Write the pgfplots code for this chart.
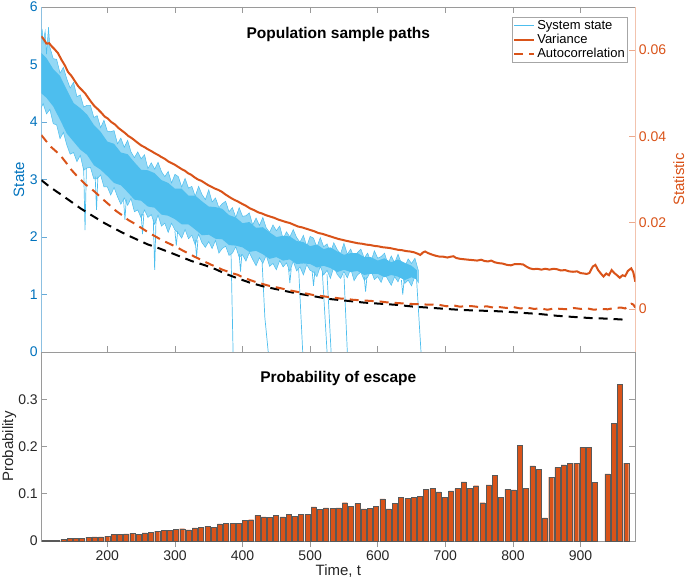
\documentclass[border=0pt]{standalone}
\usepackage{pgfplots}
\pgfplotsset{compat=1.18}
\usepackage{pgfplotstable}
\usepackage{fontspec}
\setmainfont{Liberation Sans}

\definecolor{matblue}{HTML}{0072BD}
\definecolor{sysblue}{HTML}{4DBEEE}
\definecolor{matorange}{HTML}{D95319}
\definecolor{axgray}{HTML}{9A9A9A}
\newcommand{\fs}{\fontsize{14}{16}\selectfont}
\newcommand{\fl}{\fontsize{15}{17}\selectfont}
\newcommand{\ft}{\fontsize{15.5}{18}\selectfont}
\newcommand{\fg}{\fontsize{13}{15}\selectfont}

% probability of escape, one bar per time bin
\pgfplotstableread{
t p
107.3 0.0014
116.6 0.0020
125.8 0.0020
135.1 0.0036
144.3 0.0050
153.6 0.0050
162.8 0.0060
172.1 0.0080
181.3 0.0086
190.6 0.0086
199.8 0.0100
209.1 0.0136
218.3 0.0136
227.6 0.0150
236.8 0.0157
246.1 0.0140
255.3 0.0170
264.6 0.0186
273.8 0.0210
283.1 0.0220
292.3 0.0230
301.6 0.0240
310.8 0.0260
320.1 0.0236
329.3 0.0280
338.6 0.0290
347.8 0.0310
357.1 0.0290
366.3 0.0360
375.6 0.0380
384.8 0.0370
394.1 0.0380
403.3 0.0430
412.6 0.0450
421.8 0.0540
431.1 0.0510
440.3 0.0500
449.6 0.0540
458.8 0.0510
468.1 0.0570
477.3 0.0520
486.6 0.0570
495.8 0.0570
505.1 0.0720
514.3 0.0670
523.6 0.0700
532.8 0.0690
542.1 0.0700
551.3 0.0810
560.6 0.0730
569.8 0.0790
579.1 0.0680
588.3 0.0690
597.6 0.0740
606.8 0.0890
616.1 0.0680
625.3 0.0790
634.6 0.0920
643.8 0.0900
653.1 0.0930
662.3 0.0940
671.6 0.1100
680.8 0.1110
690.1 0.1040
699.3 0.0920
708.6 0.1060
717.8 0.1110
727.1 0.1250
736.3 0.1110
745.6 0.1170
754.8 0.0810
764.1 0.1190
773.3 0.1390
782.6 0.0930
791.8 0.1090
801.1 0.1080
810.3 0.2020
819.6 0.1110
828.8 0.1590
838.1 0.1510
847.3 0.0490
856.6 0.1350
865.8 0.1560
875.1 0.1610
884.3 0.1650
893.6 0.1650
902.8 0.1980
912.1 0.1980
921.3 0.1240
939.8 0.1420
949.1 0.2490
958.3 0.3310
967.6 0.1650
}\escape

\begin{document}
\begin{tikzpicture}
\useasboundingbox (-41.3pt,-228pt) rectangle (643.7pt,352pt);

% ---------- top panel, left axis (state) ----------
\begin{axis}[
  at={(0pt,0pt)}, anchor=south west,
  width=594pt, height=345pt, scale only axis,
  xmin=102.3, xmax=981, ymin=0, ymax=6,
  axis x line*=box, axis y line*=left,
  x axis line style={axgray, line width=0.6pt},
  y axis line style={matblue!45, line width=0.6pt},
  tick align=inside, major tick length=6pt,
  xtick={200,300,...,900}, xticklabels={}, xtick pos=both,
  xtick style={axgray, line width=0.6pt},
  ytick={0,1,...,6}, yticklabels={0,1,2,3,4,5,6},
  ytick style={matblue!60, line width=0.6pt},
  yticklabel style={text=matblue, font=\fs},
  ylabel={State},
  ylabel style={text=matblue, font=\fl, at={(axis description cs:-0.029,0.5)}, anchor=base},
  title={\bfseries Population sample paths},
  title style={at={(axis description cs:0.5,0.9275)}, anchor=center, yshift=-8pt, font=\ft},
  unbounded coords=jump,
]
% outer envelope of the sample paths: upper edge, then lower edge back
\addplot[fill=sysblue!60, draw=sysblue, line width=0.5pt] coordinates {
(102.3,5.45) (103.5,5.62) (105,5.39) (108,5.58) (110,5.18) (113,5.65) (115,5.30) (120,5.10)
(125,5.09) (130,4.85) (135,4.95) (140,4.75) (145,4.59) (150,4.69) (155,4.44) (160,4.47)
(165,4.26) (170,4.29) (175,4.29) (180,4.08) (185,4.11) (190,3.90) (195,4.03) (200,3.84)
(205,3.83) (210,3.85) (215,3.62) (220,3.72) (225,3.56) (230,3.68) (235,3.48) (240,3.38)
(245,3.48) (250,3.36) (255,3.43) (260,3.19) (265,3.29) (270,3.18) (275,3.30) (280,3.14)
(285,3.05) (290,3.14) (295,2.94) (300,3.09) (305,3.05) (310,2.87) (315,3.02) (320,2.85)
(325,2.88) (330,2.71) (335,2.88) (340,2.74) (345,2.65) (350,2.82) (355,2.61) (360,2.68)
(365,2.51) (370,2.58) (375,2.62) (380,2.44) (385,2.51) (390,2.34) (395,2.51) (400,2.36)
(405,2.37) (410,2.42) (415,2.21) (420,2.33) (425,2.20) (430,2.34) (435,2.16) (440,2.08)
(445,2.21) (450,2.11) (455,2.19) (460,1.97) (465,2.09) (470,2.00) (475,2.13) (480,1.99)
(485,1.91) (490,2.03) (495,1.84) (500,2.01) (505,1.98) (510,1.82) (515,1.99) (520,1.83)
(525,1.88) (530,1.72) (535,1.90) (540,1.78) (545,1.71) (550,1.89) (555,1.70) (560,1.79)
(565,1.64) (570,1.73) (575,1.79) (580,1.63) (585,1.72) (590,1.57) (595,1.76) (600,1.63)
(605,1.66) (610,1.72) (615,1.53) (620,1.67) (625,1.55) (630,1.70) (635,1.54) (640,1.48)
(645,1.62) (650,1.54) (655,1.63) (660,1.42)
(660,1.21) (655,1.32) (650,1.15) (645,1.25) (640,1.19) (635,1.37) (630,1.22) (625,1.31)
(620,1.16) (615,1.26) (610,1.37) (605,1.21) (600,1.31) (595,1.26) (590,1.42) (585,1.30)
(580,1.25) (575,1.39) (570,1.34) (565,1.24) (560,1.45) (555,1.29) (550,1.40) (545,1.28)
(540,1.35) (535,1.48) (530,1.28) (525,1.42) (520,1.34) (515,1.49) (510,1.31) (505,1.39)
(500,1.42) (495,1.52) (490,1.34) (485,1.48) (480,1.41) (475,1.58) (470,1.40) (465,1.55)
(460,1.48) (455,1.59) (450,1.43) (445,1.54) (440,1.49) (435,1.68) (430,1.54) (425,1.64)
(420,1.50) (415,1.61) (410,1.73) (405,1.58) (400,1.69) (395,1.65) (390,1.83) (385,1.72)
(380,1.68) (375,1.84) (370,1.80) (365,1.72) (360,1.94) (355,1.80) (350,1.92) (345,1.82)
(340,1.90) (335,2.05) (330,1.86) (325,2.03) (320,1.97) (315,2.13) (310,1.98) (305,2.07)
(300,2.12) (295,2.24) (290,2.08) (285,2.24) (280,2.19) (275,2.38) (270,2.22) (265,2.39)
(260,2.34) (255,2.47) (250,2.33) (245,2.47) (240,2.44) (235,2.67) (230,2.55) (225,2.68)
(220,2.57) (215,2.70) (210,2.86) (205,2.73) (200,2.87) (195,2.87) (190,3.08) (185,3.01)
(180,3.01) (175,3.21) (170,3.20) (165,3.16) (160,3.42) (155,3.31) (150,3.47) (145,3.44)
(140,3.60) (135,3.82) (130,3.71) (125,3.95) (120,3.97) (115,4.22) (110,4.14) (105,4.32)
(102.3,4.25)
};
% dense core of the sample paths
\addplot[fill=sysblue, draw=none] coordinates {
(102.3,5.20) (110,5.11) (120,4.92) (130,4.80) (140,4.56) (150,4.33) (160,4.24) (170,4.13)
(180,3.95) (190,3.83) (200,3.66) (210,3.62) (220,3.47) (230,3.44) (240,3.30) (250,3.17)
(260,3.16) (270,3.11) (280,2.99) (290,2.94) (300,2.84) (310,2.84) (320,2.72) (330,2.72)
(340,2.62) (350,2.53) (360,2.52) (370,2.49) (380,2.38) (390,2.34) (400,2.24) (410,2.26)
(420,2.16) (430,2.17) (440,2.08) (450,2.00) (460,2.02) (470,2.01) (480,1.93) (490,1.91)
(500,1.84) (510,1.87) (520,1.79) (530,1.82) (540,1.75) (550,1.69) (560,1.72) (570,1.72)
(580,1.65) (590,1.65) (600,1.59) (610,1.63) (620,1.56) (630,1.61) (640,1.55) (650,1.50)
(658,1.42)
(658,1.26) (650,1.30) (640,1.25) (630,1.31) (620,1.34) (610,1.30) (600,1.36) (590,1.36)
(580,1.34) (570,1.41) (560,1.39) (550,1.43) (540,1.39) (530,1.46) (520,1.50) (510,1.47)
(500,1.53) (490,1.54) (480,1.53) (470,1.61) (460,1.59) (450,1.65) (440,1.62) (430,1.70)
(420,1.76) (410,1.74) (400,1.82) (390,1.85) (380,1.86) (370,1.96) (360,1.97) (350,2.04)
(340,2.03) (330,2.13) (320,2.22) (310,2.22) (300,2.31) (290,2.37) (280,2.39) (270,2.51)
(260,2.53) (250,2.63) (240,2.65) (230,2.78) (220,2.90) (210,2.94) (200,3.06) (190,3.17)
(180,3.25) (170,3.43) (160,3.52) (150,3.66) (140,3.80) (130,4.04) (120,4.27) (110,4.42)
(102.3,4.50)
};
% downward spikes and escapes to zero
\addplot[sysblue, line width=0.7pt] coordinates {
(165,3.2) (167,2.12) (169,3.2) (170,nan)
(182,3.05) (184,2.47) (186,3.05) (187,nan)
(224,2.65) (226,2.30) (228,2.65) (229,nan)
(250,2.4) (252,2.05) (254,2.4) (255,nan)
(268,2.3) (270,1.43) (272,2.3) (273,nan)
(300,2.1) (302,1.85) (304,2.1) (305,nan)
(330,1.95) (332,1.65) (334,1.95) (335,nan)
(383,1.7) (386,0) (387,nan)
(395,1.7) (397,1.40) (399,1.7) (400,nan)
(429,1.55) (433,0.6) (438,0) (439,nan)
(468,1.45) (470,1.2) (472,1.45) (473,nan)
(483,1.45) (489,0) (490,nan)
(503,1.4) (505,1.15) (507,1.4) (508,nan)
(518,1.4) (525,0) (526,nan)
(525,1.35) (531,0) (532,nan)
(550,1.35) (555,0) (556,nan)
(580,1.3) (582,1.05) (584,1.3) (585,nan)
(635,1.25) (637,1.0) (639,1.25) (640,nan)
(657,1.35) (664,0)
};
% black dashed reference curve
\addplot[black, line width=2pt, dash pattern=on 9pt off 6pt] coordinates {
(102.3,2.99) (115,2.87) (130,2.75) (147,2.61) (160,2.50) (175,2.39) (196,2.24) (215,2.12)
(230,2.03) (245,1.95) (260,1.87) (275,1.81) (295,1.72) (310,1.65) (325,1.58) (344,1.51)
(360,1.44) (375,1.36) (393,1.28) (410,1.21) (431,1.14) (455,1.08) (480,1.02) (505,0.97)
(530,0.92) (555,0.89) (579,0.86) (603,0.84) (628,0.82) (652,0.79) (677,0.77) (700,0.75)
(725,0.73) (750,0.72) (775,0.71) (791,0.70) (815,0.68) (840,0.66) (865,0.63) (889,0.61)
(915,0.59) (940,0.58) (968,0.56)
};
\end{axis}

% ---------- top panel, right axis (statistic) ----------
\begin{axis}[
  at={(0pt,0pt)}, anchor=south west,
  width=594pt, height=345pt, scale only axis,
  xmin=102.3, xmax=981, ymin=-0.01, ymax=0.07,
  axis x line=none, axis y line*=right,
  y axis line style={matorange!35, line width=0.6pt},
  tick align=inside, major tick length=6pt,
  xtick=\empty,
  ytick={0,0.02,0.04,0.06}, yticklabels={0,0.02,0.04,0.06},
  ytick style={matorange!50, line width=0.6pt},
  yticklabel style={text=matorange, font=\fs},
  ylabel={Statistic},
  ylabel style={text=matorange, font=\fl, at={(axis description cs:1.082,0.5)}, anchor=base},
  legend style={at={(axis description cs:0.9877,0.970)}, anchor=north east,
    draw=gray!70, line width=0.5pt, font=\fg, inner sep=1pt, row sep=-1pt,
    cells={anchor=west}, fill=white},
  legend image code/.code={\draw[#1] (0pt,0pt) -- (20pt,0pt);},
]
\addlegendimage{sysblue, line width=1.2pt}
\addlegendentry{System state}
\addplot[matorange, line width=2pt] coordinates {
(102.3,0.0632) (106,0.0625) (110,0.0615) (114,0.0616) (117,0.0610) (122,0.0602) (127,0.0593)
(132,0.0578) (137,0.0565) (142,0.0549) (147,0.0540) (152,0.0528) (157,0.0516) (162,0.0508)
(167,0.0500) (171,0.0491) (176,0.0480) (181,0.0470) (186,0.0463) (191,0.0455) (196,0.0446)
(201,0.0441) (206,0.0433) (211,0.0428) (216,0.0420) (221,0.0414) (226,0.0408) (231,0.0401)
(236,0.0396) (241,0.0390) (245,0.0385) (250,0.0379) (255,0.0375) (260,0.0370) (265,0.0366)
(270,0.0361) (275,0.0357) (280,0.0352) (285,0.0348) (290,0.0342) (295,0.0338) (300,0.0334)
(305,0.0329) (310,0.0324) (315,0.0320) (319,0.0315) (324,0.0311) (329,0.0305) (334,0.0300)
(339,0.0297) (344,0.0292) (349,0.0287) (354,0.0283) (359,0.0279) (364,0.0276) (369,0.0272)
(374,0.0266) (379,0.0261) (384,0.0256) (389,0.0252) (393,0.0249) (400,0.0243) (405,0.0239)
(411,0.0233) (417,0.0229) (423,0.0224) (429,0.0221) (435,0.0217) (441,0.0214) (447,0.0211)
(453,0.0207) (459,0.0204) (465,0.0201) (470,0.0199) (476,0.0195) (482,0.0191) (488,0.0189)
(494,0.0186) (500,0.0183) (506,0.0180) (512,0.0176) (518,0.0174) (524,0.0171) (530,0.0168)
(536,0.0165) (542,0.0162) (548,0.0160) (553,0.0158) (559,0.0156) (565,0.0154) (571,0.0152)
(577,0.0151) (583,0.0149) (589,0.0148) (595,0.0146) (601,0.0145) (607,0.0143) (613,0.0142)
(618,0.0141) (624,0.0139) (630,0.0137) (636,0.0136) (642,0.0134) (648,0.0133) (654,0.0131)
(659,0.0128) (663,0.0125) (667,0.0131) (670,0.0133) (675,0.0129) (680,0.0126) (686,0.0123)
(692,0.0121) (697,0.0121) (703,0.0119) (708,0.0121) (712,0.0122) (716,0.0118) (722,0.0116)
(728,0.0115) (734,0.0114) (741,0.0113) (747,0.0112) (753,0.0114) (758,0.0111) (763,0.0110)
(768,0.0112) (773,0.0108) (779,0.0106) (785,0.0105) (791,0.0102) (797,0.0101) (803,0.0104)
(809,0.0104) (815,0.0103) (820,0.0098) (825,0.0094) (830,0.0092) (836,0.0093) (842,0.0091)
(848,0.0093) (854,0.0091) (860,0.0093) (865,0.0092) (871,0.0089) (877,0.0090) (883,0.0087)
(889,0.0086) (895,0.0087) (900,0.0083) (905,0.0082) (909,0.0081) (913,0.0083) (918,0.0098)
(922,0.0102) (926,0.0090) (930,0.0082) (934,0.0075) (938,0.0082) (942,0.0078) (946,0.0090)
(950,0.0083) (954,0.0078) (958,0.0072) (962,0.0078) (966,0.0076) (970,0.0088) (975,0.0094)
(978,0.0085) (981,0.0063)
};
\addlegendentry{Variance}
\addplot[matorange, line width=2pt, dash pattern=on 9pt off 6pt] coordinates {
(102.3,0.0403) (110,0.0388) (117,0.0375) (125,0.0364) (132,0.0353) (140,0.0337) (147,0.0322)
(154,0.0310) (161,0.0299) (168,0.0288) (175,0.0280) (181,0.0272) (188,0.0262) (195,0.0252)
(206,0.0237) (213,0.0227) (222,0.0217) (231,0.0206) (240,0.0198) (248,0.0190) (255,0.0183)
(263,0.0175) (271,0.0168) (280,0.0160) (288,0.0154) (296,0.0148) (305,0.0141) (313,0.0134)
(321,0.0128) (329,0.0121) (337,0.0115) (346,0.0108) (354,0.0102) (362,0.0097) (370,0.0091)
(379,0.0086) (386,0.0082) (393,0.0079) (402,0.0072) (411,0.0067) (420,0.0062) (429,0.0058)
(438,0.0054) (447,0.0051) (456,0.0048) (466,0.0044) (476,0.0041) (486,0.0038) (496,0.0035)
(505,0.0032) (515,0.0030) (525,0.0028) (535,0.0026) (545,0.0024) (554,0.0023) (564,0.0021)
(574,0.0020) (584,0.0019) (594,0.0018) (604,0.0017) (614,0.0015) (624,0.0014) (634,0.0013)
(644,0.0012) (653,0.0011) (662,0.0011) (672,0.0010) (682,0.0010) (692,0.0009) (702,0.0006)
(712,0.0008) (722,0.0005) (732,0.0007) (741,0.0006) (751,0.0004) (761,0.0006) (771,0.0003)
(781,0.0004) (791,0.0002) (801,0.0004) (811,0.0001) (821,0.0003) (831,0.0000) (841,0.0001)
(851,-0.0002) (861,0.0001) (871,0.0000) (881,-0.0001) (890,0.0002) (900,0.0000) (910,0.0001)
(920,-0.0002) (930,0.0000) (940,-0.0001) (950,0.0002) (960,0.0003) (966,0.0001) (970,0.0006)
(975,0.0012) (978,0.0010) (981,0.0003)
};
\addlegendentry{Autocorrelation}
\end{axis}

% ---------- bottom panel: probability of escape ----------
\begin{axis}[
  at={(0pt,-189pt)}, anchor=south west,
  width=594pt, height=189pt, scale only axis,
  xmin=102.3, xmax=981, ymin=0, ymax=0.4,
  axis line style={axgray, line width=0.6pt},
  tick align=inside, major tick length=6pt,
  xtick={200,300,...,900}, xticklabels={200,300,400,500,600,700,800,900},
  ytick={0,0.1,0.2,0.3}, yticklabels={0,0.1,0.2,0.3},
  xtick pos=both, ytick pos=both,
  tick style={axgray, line width=0.6pt},
  ticklabel style={font=\fs, text=black!85},
  xlabel={Time, t},
  xlabel style={font=\fl, text=black!85, at={(axis description cs:0.5,-0.185)}, anchor=base},
  ylabel={Probability},
  ylabel style={font=\fl, text=black!85, at={(axis description cs:-0.0476,0.5)}, anchor=base},
  title={\bfseries Probability of escape},
  title style={at={(axis description cs:0.5,0.869)}, anchor=center, yshift=-8pt, font=\ft},
  ybar, bar width=7.4,
]
\addplot[fill=matorange, draw=black!65, line width=0.4pt] table[x=t, y=p] {\escape};
\end{axis}
\end{tikzpicture}
\end{document}
